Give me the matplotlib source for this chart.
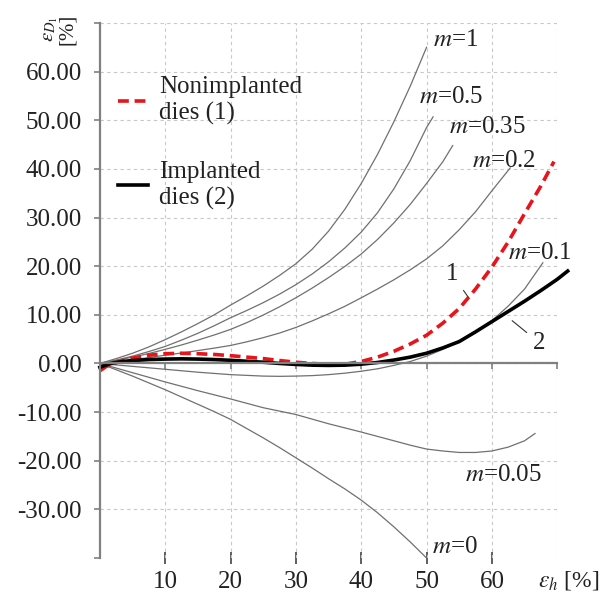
import matplotlib.pyplot as plt

plt.rcParams['font.family'] = ['Liberation Serif', 'DejaVu Serif']
plt.rcParams['mathtext.fontset'] = 'stix'

# gray family of curves (parameter m), eps_h [%] vs eps_D1 [%]
m1_x = [0, 2.5, 5, 7.5, 10, 12.5, 15, 17.5, 20, 22.5, 25, 27.5, 30, 32.5, 35, 37.5, 40, 42.5, 45, 47.5, 50]
m1_y = [0, 1.0, 2.1, 3.4, 4.9, 6.5, 8.2, 10.0, 12.0, 13.9, 15.9, 18.1, 20.5, 23.5, 27.2, 31.7, 37.0, 43.0, 49.7, 57.0, 65.0]

m05_x = [0, 2.5, 5, 7.5, 10, 12.5, 15, 17.5, 20, 22.5, 25, 27.5, 30, 32.5, 35, 37.5, 40, 42.5, 45, 47.5, 50, 51]
m05_y = [0, 0.7, 1.5, 2.45, 3.5, 4.8, 6.2, 7.75, 9.4, 10.9, 12.5, 14.25, 16.2, 18.4, 20.9, 23.75, 27.0, 31.0, 35.9, 41.7, 48.5, 50.7]

m035_x = [0, 2.5, 5, 7.5, 10, 12.5, 15, 17.5, 20, 22.5, 25, 27.5, 30, 32.5, 35, 37.5, 40, 42.5, 45, 47.5, 50, 52.5, 54]
m035_y = [0, 0.6, 1.3, 2.05, 2.9, 3.8, 4.8, 5.85, 7.0, 8.4, 9.95, 11.65, 13.5, 15.5, 17.65, 19.95, 22.5, 25.5, 28.9, 32.7, 37.0, 41.5, 44.8]

m02_x = [0, 2.5, 5, 7.5, 10, 12.5, 15, 17.5, 20, 22.5, 25, 27.5, 30, 32.5, 35, 37.5, 40, 42.5, 45, 47.5, 50, 52.5, 55, 57.5, 60, 62.8]
m02_y = [0, 0.35, 0.75, 1.2, 1.7, 2.15, 2.65, 3.15, 3.7, 4.45, 5.3, 6.25, 7.4, 8.75, 10.2, 11.75, 13.5, 15.3, 17.2, 19.25, 21.5, 24.2, 27.5, 31.2, 35.5, 40.2]

m01_x = [0, 2.5, 5, 7.5, 10, 12.5, 15, 17.5, 20, 22.5, 25, 27.5, 30, 32.5, 35, 37.5, 40, 42.5, 45, 47.5, 50, 52.5, 55, 57.5, 60, 62.5, 65, 67.8]
m01_y = [0, -0.3, -0.6, -0.9, -1.2, -1.5, -1.8, -2.05, -2.3, -2.45, -2.6, -2.65, -2.6, -2.5, -2.3, -2.0, -1.6, -1.1, -0.4, 0.4, 1.5, 2.9, 4.6, 6.6, 8.8, 11.8, 15.3, 20.7]

m005_x = [0, 2.5, 5, 7.5, 10, 12.5, 15, 17.5, 20, 22.5, 25, 27.5, 30, 32.5, 35, 37.5, 40, 42.5, 45, 47.5, 50, 52.5, 55, 57.5, 60, 62.5, 65, 66.6]
m005_y = [0, -0.95, -1.9, -2.85, -3.8, -4.7, -5.6, -6.45, -7.3, -8.2, -9.1, -9.8, -10.5, -11.45, -12.4, -13.25, -14.1, -15.0, -15.9, -16.8, -17.6, -18.0, -18.3, -18.3, -18.0, -17.2, -15.9, -14.4]

m0_x = [0, 2.5, 5, 7.5, 10, 12.5, 15, 17.5, 20, 22.5, 25, 27.5, 30, 32.5, 35, 37.5, 40, 42.5, 45, 47.5, 50]
m0_y = [0, -1.3, -2.6, -4.0, -5.4, -6.9, -8.4, -9.9, -11.5, -13.4, -15.3, -17.3, -19.4, -21.5, -23.7, -25.8, -28.1, -30.7, -33.6, -36.7, -40]

# measured curves
non_x = [0, 1, 2, 3.5, 5, 7.5, 10, 12.5, 15, 17.5, 20, 22.5, 25, 27.5, 30, 32.5, 35, 37.5, 40, 42.5, 45, 47.5, 50, 52.5, 55, 57.5, 60, 62.5, 65, 67.5, 69.5]
non_y = [-1.5, -0.6, 0, 0.6, 1.1, 1.7, 2.0, 2.1, 2.0, 1.85, 1.6, 1.3, 1.0, 0.6, 0.25, 0, -0.2, -0.15, 0.4, 1.3, 2.5, 4.0, 5.8, 8.3, 11.3, 15.3, 19.8, 25.0, 30.8, 36.5, 41.5]

imp_x = [0, 1, 2, 3.5, 5, 7.5, 10, 12.5, 15, 17.5, 20, 22.5, 25, 27.5, 30, 32.5, 35, 37.5, 40, 42.5, 45, 47.5, 50, 52.5, 55, 57.5, 60, 62.5, 65, 67.5, 70, 71.6]
imp_y = [-0.8, -0.3, 0.1, 0.4, 0.6, 0.8, 0.9, 0.95, 0.9, 0.8, 0.65, 0.45, 0.25, 0.0, -0.2, -0.35, -0.4, -0.35, -0.15, 0.2, 0.7, 1.3, 2.1, 3.2, 4.5, 6.5, 8.6, 10.7, 12.8, 15.0, 17.3, 19.0]

curves = [(m1_x, m1_y), (m05_x, m05_y), (m035_x, m035_y), (m02_x, m02_y),
          (m01_x, m01_y), (m005_x, m005_y), (m0_x, m0_y)]

m_labels = ['$m$=1', '$m$=0.5', '$m$=0.35', '$m$=0.2', '$m$=0.1', '$m$=0.05', '$m$=0']
m_label_pos = [(51, 66.5), (48.9, 54.8), (53.4, 48.7), (57, 41.7), (62.5, 22.8), (55.9, -23), (50.8, -37.8)]

yticks = list(range(-40, 71, 10))
ytick_labels = ['' if v in (-40, 70) else '%.2f' % v for v in yticks]
xticks = list(range(10, 71, 10))
xtick_labels = ['10', '20', '30', '40', '50', '60']

fs = 18
txt = '#222222'
axis_col = '#808080'

fig = plt.figure(figsize=(6.09, 5.94), dpi=100)
ax = fig.add_axes([0.164, 0.0606, 0.751, 0.9007])

for cx, cy in curves:
    ax.plot(cx, cy, color='#707070', lw=0.9)

ax.plot(non_x, non_y, color='#e8141c', lw=2.6, dashes=(3, 1.6), label='Nonimplanted\ndies (1)')
ax.plot(imp_x, imp_y, color='black', lw=2.6, label='Implanted\ndies (2)', clip_on=False)

for lab, (lx, ly) in zip(m_labels, m_label_pos):
    ax.text(lx, ly, lab, fontsize=fs, color=txt, ha='left', va='center')

ax.annotate('1', xy=(56.4, 13.6), xytext=(53.9, 18.3), fontsize=fs, color=txt,
            ha='center', va='center',
            arrowprops=dict(arrowstyle='-', lw=0.8, color='#333333', shrinkA=3, shrinkB=0))
ax.annotate('2', xy=(63.1, 8.8), xytext=(67.2, 4.3), fontsize=fs, color=txt,
            ha='center', va='center',
            arrowprops=dict(arrowstyle='-', lw=0.8, color='#333333', shrinkA=3, shrinkB=0))

ax.set_xlim(0, 70)
ax.set_ylim(-40, 70)

ax.set_yticks(yticks)
ax.set_yticklabels(ytick_labels, fontsize=fs, color=txt)
ax.set_xticks(xticks)
ax.tick_params(axis='x', direction='out', length=4, width=1.2, color=axis_col, labelbottom=False)
ax.tick_params(axis='y', direction='out', length=4, width=1.2, color=axis_col, pad=9)

ax.grid(True, color='#c8c8c8', linestyle=(0, (3, 3)), linewidth=0.8)
ax.set_axisbelow(True)
ax.yaxis.get_gridlines()[0].set_visible(False)

for s in ['top', 'right']:
    ax.spines[s].set_visible(False)
ax.spines['left'].set_color(axis_col)
ax.spines['left'].set_linewidth(1.6)
ax.spines['bottom'].set_position(('data', 0))
ax.spines['bottom'].set_color(axis_col)
ax.spines['bottom'].set_linewidth(1.6)

sec = ax.secondary_xaxis('bottom')
sec.spines['bottom'].set_visible(False)
sec.set_xticks(xticks[:-1])
sec.set_xticklabels(xtick_labels, fontsize=fs, color=txt)
sec.tick_params(direction='inout', length=9, width=1.2, color='#444444', pad=5)

fig.text(538 / 609, 1 - 580 / 594, '$\\varepsilon_h$ [%]', fontsize=17, color=txt,
         ha='left', va='center')
fig.text(59 / 609, 1 - 29 / 594, '$\\varepsilon_{D_1}$\n[%]', fontsize=15, color=txt,
         rotation=90, ha='center', va='center', linespacing=0.9)

ax.legend(loc='upper left', bbox_to_anchor=(0.039, 0.9), frameon=False, fontsize=fs,
          borderpad=0, borderaxespad=0,
          handlelength=1.2, handletextpad=0.45, labelspacing=1.45, labelcolor=txt)

fig.savefig('out.png', dpi=100, facecolor='white')
